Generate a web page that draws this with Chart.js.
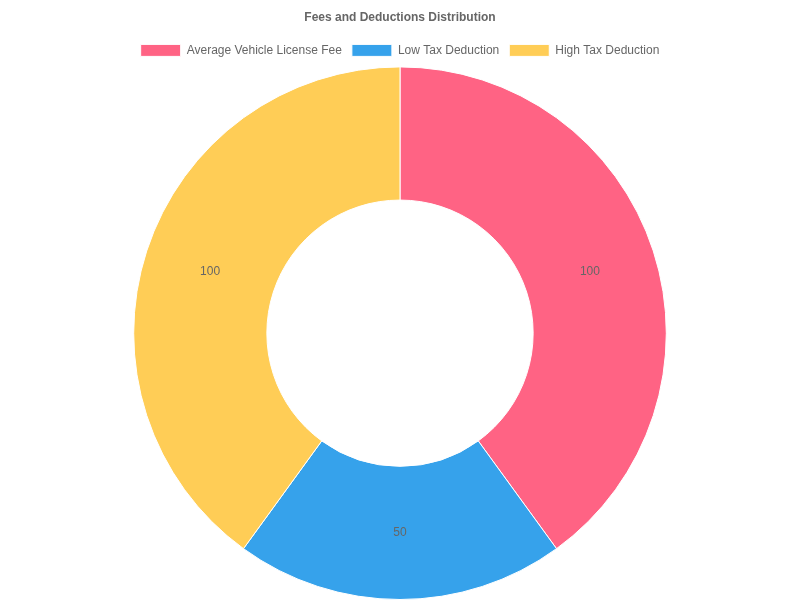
<!DOCTYPE html>
<html>
<head>
<meta charset="utf-8">
<script src="https://cdn.jsdelivr.net/npm/chart.js@4"></script>
<style>
  body { margin: 0; background: #fff; }
  #wrap { width: 800px; height: 600px; }
</style>
</head>
<body>
<div id="wrap"><canvas id="feesChart"></canvas></div>
<script>
const labels = ['Average Vehicle License Fee', 'Low Tax Deduction', 'High Tax Deduction'];
const values = [100, 50, 100];
const colors = ['#ff6384', '#36a2eb', '#ffcd56'];

// draw each value in the middle of its slice
const sliceLabels = {
    id: 'sliceLabels',
    afterDatasetsDraw(chart) {
        const ctx = chart.ctx;
        const meta = chart.getDatasetMeta(0);
        ctx.save();
        ctx.font = '12px "Liberation Sans", Arial, sans-serif';
        ctx.fillStyle = '#666';
        ctx.textAlign = 'center';
        ctx.textBaseline = 'middle';
        meta.data.forEach((arc, i) => {
            const p = arc.tooltipPosition();
            ctx.fillText(values[i], p.x, p.y);
        });
        ctx.restore();
    }
};

Chart.defaults.font.family = '"Liberation Sans", Arial, sans-serif';
Chart.defaults.color = '#666';

new Chart(document.getElementById('feesChart').getContext('2d'), {
    type: 'doughnut',
    data: {
        labels: labels,
        datasets: [{
            data: values,
            backgroundColor: colors,
            borderColor: '#fff',
            borderWidth: 1
        }]
    },
    options: {
        responsive: true,
        maintainAspectRatio: false,
        animation: false,
        cutout: '50%',
        plugins: {
            title: {
                display: true,
                text: 'Fees and Deductions Distribution',
                font: { size: 12, weight: 'bold' },
                padding: { top: 10, bottom: 10 }
            },
            legend: {
                position: 'top',
                labels: { font: { size: 12 } }
            },
            tooltip: { enabled: false }
        }
    },
    plugins: [sliceLabels]
});
</script>
</body>
</html>
